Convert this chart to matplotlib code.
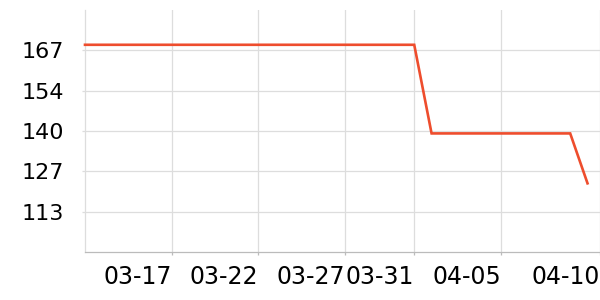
import matplotlib
matplotlib.use("Agg")
import matplotlib.pyplot as plt
import matplotlib.dates as mdates
import numpy as np
import datetime as dt

# daily values
start = dt.datetime(2023, 3, 12)
values = [168.5, 168.5, 168.5, 168.5, 168.5, 168.5, 168.5, 168.5, 168.5, 168.5,
          168.5, 168.5, 168.5, 168.5, 168.5, 168.5, 168.5, 168.5, 168.5, 168.5,
          139.2, 139.2, 139.2, 139.2, 139.2, 139.2, 139.2, 139.2, 139.2,
          122.7]
dates = [start + dt.timedelta(days=i) for i in range(len(values))]

tick_dates = [dt.datetime(2023, 3, 17), dt.datetime(2023, 3, 22), dt.datetime(2023, 3, 27),
              dt.datetime(2023, 3, 31), dt.datetime(2023, 4, 5)]
tick_labels = ["03-17", "03-22", "03-27", "03-31", "04-05", "04-10"]
y_ticks = [113.33, 126.67, 140.0, 153.33, 166.67]
y_labels = ["113", "127", "140", "154", "167"]

fig = plt.figure(figsize=(6, 3), dpi=100)
ax = fig.add_axes([85 / 600, 1 - 252 / 300, 515 / 600, 242 / 300])

ax.plot(dates, values, color="#ee4d2d", linewidth=1.9, solid_joinstyle="miter", clip_on=False, zorder=3)

xmax = start + dt.timedelta(days=29.72)
ax.set_xlim(start, xmax)
ax.set_ylim(100, 180)

ax.set_xticks(tick_dates + [xmax])
ax.set_xticklabels(tick_labels, ha="right")
ax.set_yticks(y_ticks)
ax.set_yticklabels(y_labels)

ax.grid(True, color="#dddddd", linewidth=0.9)
ax.set_axisbelow(True)
for s in ["top", "right"]:
    ax.spines[s].set_visible(False)
ax.spines["left"].set_color("#dddddd")
ax.spines["left"].set_linewidth(0.9)
ax.spines["bottom"].set_color("#bbbbbb")
ax.spines["bottom"].set_linewidth(0.9)

ax.tick_params(axis="y", length=2, width=0.9, color="#dddddd", pad=13, labelsize=16)
ax.tick_params(axis="x", length=2.5, width=0.9, color="#bbbbbb", pad=7, labelsize=17)

fig.savefig("out.png", dpi=100)
